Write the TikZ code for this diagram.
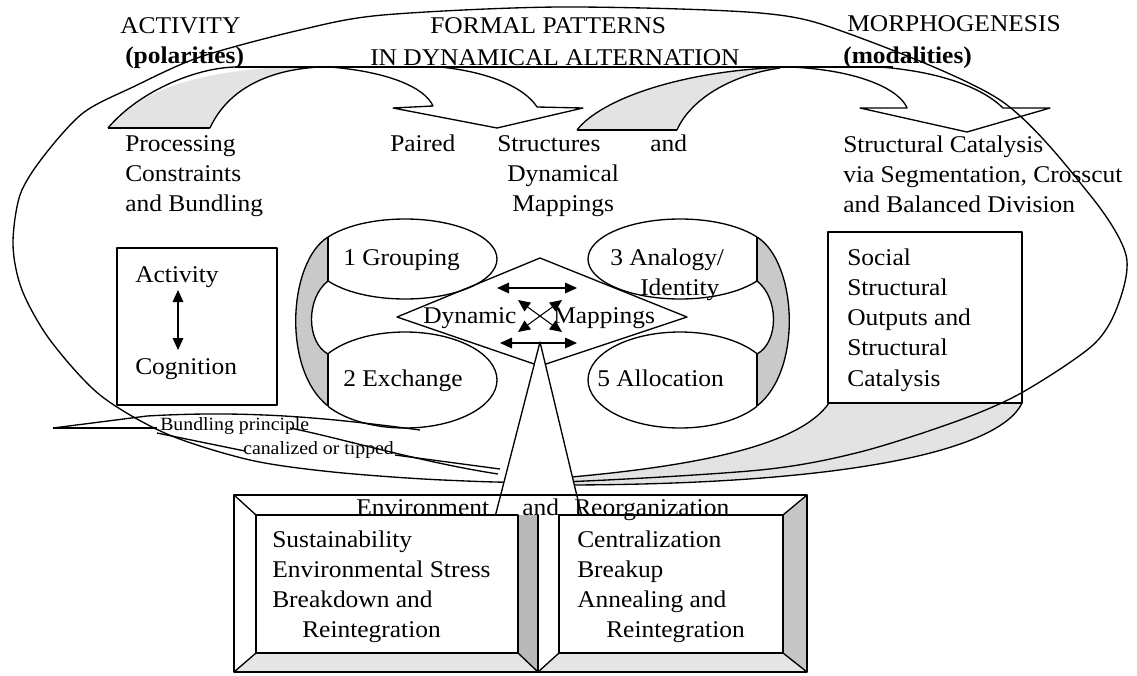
\documentclass[tikz,border=0pt]{standalone}
\usepackage{fontspec}
\setmainfont{Liberation Serif}[FakeStretch=1.06]
\usetikzlibrary{arrows.meta}
\newcommand{\bfnt}{\fontsize{18}{22.5}\selectfont}
\newcommand{\sfnt}{\fontsize{14}{17}\selectfont}
\begin{document}
\begin{tikzpicture}[x=0.75pt,y=-0.75pt,
  ln/.style={line width=1pt, line join=round},
  thinln/.style={line width=0.8pt},
  tx/.style={anchor=base west, inner sep=0pt, font=\bfnt},
  stx/.style={anchor=base west, inner sep=0pt, font=\sfnt},
  crescent/.style={fill=gray!22},
  ringfill/.style={fill=gray!42},
  dbl/.style={thinln, {Triangle[length=9pt,width=8pt]}-{Triangle[length=9pt,width=8pt]}},
]
\useasboundingbox (0,0) rectangle (1137,675);

% ---------- bottom-right grey sweep ----------
\fill[crescent] (829,403) .. controls (800,445) and (700,466) .. (560,478) -- (560,485) .. controls (850,485) and (1000,450) .. (1022,403) -- cycle;
\draw[ln] (829,403) .. controls (800,445) and (700,466) .. (560,478);
\draw[ln] (560,485) .. controls (850,485) and (1000,450) .. (1022,403);

% ---------- big ellipse ----------
\draw[ln] plot[smooth cycle] coordinates {(13,245) (20,195) (43,157) (83,113) (133,87) (200,57) (300,30) (383,15) (560,7) (760,13) (847,33) (1000,100) (1090,195) (1126,255) (1118,305) (1093,345) (1023,392) (960,420) (860,452) (760,470) (560,482) (443,480) (333,472) (250,460) (167,434) (100,395) (50,340) (22,290)};

% ---------- bottom-left arrowhead ----------
\coordinate (tipL) at (53,428);
\draw[ln] (tipL) -- (157,428);
\draw[ln] (tipL) -- (147,416) .. controls (250,410) and (330,418) .. (420,430);
\draw[ln] (157,433) -- (245,451);
\draw[ln] (395,455) -- (500,469);
\draw[ln] (498,474) .. controls (420,462) and (340,438) .. (290,428);

% ---------- top arrow 1 ----------
\fill[crescent] (108,128) .. controls (140,90) and (200,66) .. (330,66) -- (317,67) .. controls (260,70) and (225,95) .. (210,128) -- cycle;
\draw[ln] (108,128) .. controls (140,90) and (200,66) .. (240,67);
\draw[ln] (210,128) .. controls (225,95) and (260,70) .. (320,67);
\draw[ln] (108,128) -- (210,128);
\draw[ln] (235,67) -- (893,67);
\draw[ln] (330,67) .. controls (390,72) and (425,88) .. (433,106) -- (393,108) -- (497,128) -- (583,108) -- (537,107) .. controls (525,88) and (490,72) .. (440,67);

% ---------- top arrow 2 ----------
\fill[crescent] (577,130) .. controls (600,100) and (680,70) .. (790,67) -- (780,68) .. controls (730,75) and (690,100) .. (677,130) -- cycle;
\draw[ln] (577,130) .. controls (600,100) and (680,70) .. (790,67);
\draw[ln] (677,130) .. controls (690,100) and (730,75) .. (780,68);
\draw[ln] (577,130) -- (677,130);
\draw[ln] (790,67) .. controls (860,70) and (900,90) .. (907,108) -- (860,108) -- (967,132) -- (1050,108) -- (1003,108) .. controls (985,90) and (945,72) .. (880,67);

% ---------- ring ----------
\fill[ringfill] (328,237) .. controls (288,262) and (282,370) .. (328,406) -- (328,354) .. controls (306,342) and (306,298) .. (328,281) -- cycle;
\draw[ln] (328,237) .. controls (288,262) and (282,370) .. (328,406);
\draw[ln] (328,281) .. controls (306,298) and (306,342) .. (328,354);
\draw[ln] (328,237) -- (328,281);
\draw[ln] (328,354) -- (328,406);
\fill[ringfill] (757,237) .. controls (797,262) and (803,370) .. (757,406) -- (757,354) .. controls (779,342) and (779,298) .. (757,281) -- cycle;
\draw[ln] (757,237) .. controls (797,262) and (803,370) .. (757,406);
\draw[ln] (757,281) .. controls (779,298) and (779,342) .. (757,354);
\draw[ln] (757,237) -- (757,281);
\draw[ln] (757,354) -- (757,406);

\begin{scope}
\clip (328,150) rectangle (542,470);
\draw[ln] (405,259) ellipse [x radius=69pt, y radius=30pt];
\draw[ln] (405,380) ellipse [x radius=69pt, y radius=36pt];
\end{scope}
\begin{scope}
\clip (542,150) rectangle (757,470);
\draw[ln] (680,259) ellipse [x radius=69pt, y radius=30pt];
\draw[ln] (680,380) ellipse [x radius=69pt, y radius=36pt];
\end{scope}

% ---------- diamond and triangle ----------
\draw[ln] (397,317) -- (540,258) -- (687,317) -- (540,366) -- cycle;
\fill[white] (540,342) -- (495,517) -- (582,517) -- cycle;
\draw[ln] (495,517) -- (540,342) -- (582,517);

% ---------- crossed arrows ----------
\coordinate (x1) at (497,288); \coordinate (x2) at (577,288);
\coordinate (x3) at (500,343); \coordinate (x4) at (577,343);
\coordinate (d1) at (518,300); \coordinate (d2) at (562,332);
\coordinate (d3) at (562,300); \coordinate (d4) at (518,332);
\draw[dbl] (x1) -- (x2);
\draw[dbl] (x3) -- (x4);
\draw[dbl] (d1) -- (d2);
\draw[dbl] (d3) -- (d4);

% ---------- side boxes ----------
\draw[ln] (117,248) rectangle (277,405);
\draw[ln] (828,232) rectangle (1022,403);
\coordinate (aa) at (178,290); \coordinate (ab) at (178,350);
\draw[dbl] (aa) -- (ab);

% ---------- bottom frame ----------
\fill[gray!20] (234,672) -- (256,653) -- (518,653) -- (538,672) -- cycle;
\fill[gray!20] (538,672) -- (559,653) -- (783,653) -- (807,672) -- cycle;
\fill[gray!45] (807,495) -- (783,515) -- (783,653) -- (807,672) -- cycle;
\fill[gray!55] (518,515) -- (538,515) -- (538,672) -- (518,653) -- cycle;
\draw[ln] (234,495) rectangle (807,672);
\draw[ln, fill=white] (256,515) rectangle (518,653);
\draw[ln, fill=white] (559,515) rectangle (783,653);
\draw[ln] (234,495) -- (256,515);
\draw[ln] (234,672) -- (256,653);
\draw[ln] (807,495) -- (783,515);
\draw[ln] (807,672) -- (783,653);
\draw[ln] (518,653) -- (538,672) -- (559,653);
\draw[ln] (538,515) -- (538,672);

% ---------- texts ----------
\node[tx] (t1) at (120,33) {ACTIVITY};
\node[tx] (t2) at (125,63) {\bfseries (polarities)};
\node[tx] (t3) at (430,33) {FORMAL PATTERNS};
\node[tx] (t4) at (370,65) {IN DYNAMICAL ALTERNATION};
\node[tx] (t5) at (847,31) {MORPHOGENESIS};
\node[tx] (t6) at (843,63) {\bfseries (modalities)};

\node[tx] (p1) at (125,151) {Processing};
\node[tx] (p2) at (125,181) {Constraints};
\node[tx] (p3) at (125,211) {and Bundling};

\node[tx] (q1) at (390,151) {Paired};
\node[tx] (q2) at (497,151) {Structures};
\node[tx] (q3) at (650,151) {and};
\node[tx] (q4) at (507,181) {Dynamical};
\node[tx] (q5) at (512,211) {Mappings};

\node[tx] (r1) at (843,152) {Structural Catalysis};
\node[tx] (r2) at (843,182) {via Segmentation, Crosscut};
\node[tx] (r3) at (843,212) {and Balanced Division};

\node[tx] (g1) at (343,265) {1 Grouping};
\node[tx] (g2) at (343,386) {2 Exchange};
\node[tx] (g3) at (610,265) {3 Analogy/};
\node[tx] (g4) at (640,295) {Identity};
\node[tx] (g5) at (597,386) {5 Allocation};
\node[tx] (dm1) at (423,323) {Dynamic};
\node[tx] (dm2) at (553,323) {Mappings};

\node[tx] (a1) at (135,282) {Activity};
\node[tx] (a2) at (135,374) {Cognition};

\node[tx] (s1) at (847,265) {Social};
\node[tx] (s2) at (847,295) {Structural};
\node[tx] (s3) at (847,325) {Outputs and};
\node[tx] (s4) at (847,355) {Structural};
\node[tx] (s5) at (847,386) {Catalysis};

\node[stx] (b1) at (160,430) {Bundling principle};
\node[stx] (b2) at (243,454) {canalized or tipped};

\node[tx] (e1) at (356,515) {Environment};
\node[tx] (e2) at (522,515) {and};
\node[tx] (e3) at (574,515) {Reorganization};

\node[tx] (l1) at (272,547) {Sustainability};
\node[tx] (l2) at (272,577) {Environmental Stress};
\node[tx] (l3) at (272,607) {Breakdown and};
\node[tx] (l4) at (302,637) {Reintegration};

\node[tx] (m1) at (577,547) {Centralization};
\node[tx] (m2) at (577,577) {Breakup};
\node[tx] (m3) at (577,607) {Annealing and};
\node[tx] (m4) at (606,637) {Reintegration};
\end{tikzpicture}
\end{document}
